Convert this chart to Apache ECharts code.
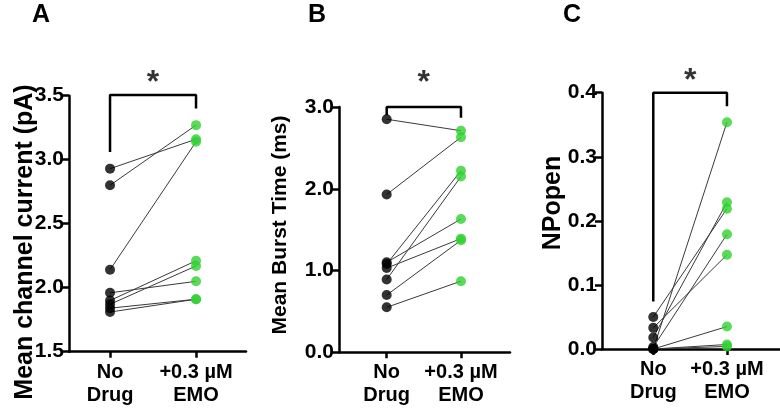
<!DOCTYPE html>
<html>
<head>
<meta charset="utf-8">
<script src="https://cdn.jsdelivr.net/npm/echarts@6/dist/echarts.min.js"></script>
<style>html,body{margin:0;padding:0;background:#fff;}#chart{width:780px;height:410px;}</style>
</head>
<body>
<div id="chart"></div>
<script>
// ---- data ----
const categories = ['No\nDrug', '+0.3 µM\nEMO'];
const panelLetters = ['A', 'B', 'C'];
const yTitles = ['Mean channel current (pA)', 'Mean Burst Time (ms)', 'NPopen'];

const currentNoDrug = [2.93, 2.80, 2.14, 1.96, 1.90, 1.87, 1.84, 1.81];
const currentEMO    = [3.16, 3.27, 3.14, 2.05, 2.21, 2.17, 1.91, 1.91];
const burstNoDrug   = [2.85, 1.93, 1.10, 1.08, 1.03, 0.89, 0.70, 0.55];
const burstEMO      = [2.71, 2.63, 1.63, 2.22, 1.39, 2.15, 1.37, 0.87];
const npNoDrug      = [0.050, 0.033, 0.018, 0.003, 0.000, 0.000, 0.000, 0.000];
const npEMO         = [0.219, 0.147, 0.229, 0.179, 0.354, 0.035, 0.007, 0.004];

const currentTicks = [1.5, 2.0, 2.5, 3.0, 3.5];
const burstTicks   = [0.0, 1.0, 2.0, 3.0];
const npTicks      = [0.0, 0.1, 0.2, 0.3, 0.4];

// significance brackets: [left leg end, top, right leg end], star level
const bracketCurrent = [3.06, 3.505, 3.40];
const bracketBurst   = [2.90, 3.0, 2.87];
const bracketNp      = [0.074, 0.4, 0.379];
const starLevels     = [3.60, 3.29, 0.418];
const sigText = '*';

// ---- layout / style ----
const FONT = "'Liberation Sans', Arial, sans-serif";
const BLACK = '#000000';
const GREEN = '#2fd12f';
const grids = [
  {left: 69, top: 95.7, width: 177, height: 256},
  {left: 339, top: 107, width: 171, height: 245.3},
  {left: 602, top: 92.7, width: 178, height: 256.3}
];
const xRanges = [[-0.477, 1.581], [-0.642, 1.66], [-0.696, 1.72]];

const panels = [
  {pre: currentNoDrug, post: currentEMO, ticks: currentTicks, br: bracketCurrent},
  {pre: burstNoDrug, post: burstEMO, ticks: burstTicks, br: bracketBurst},
  {pre: npNoDrug, post: npEMO, ticks: npTicks, br: bracketNp}
];

const xAxis = [], yAxis = [], series = [];
panels.forEach((p, i) => {
  xAxis.push({
    type: 'value', gridIndex: i, min: xRanges[i][0], max: xRanges[i][1],
    axisLine: {show: true, onZero: false, lineStyle: {color: BLACK, width: 2.5}},
    axisTick: {show: true, length: 6, lineStyle: {color: BLACK, width: 2.5}, customValues: [0, 1]},
    axisLabel: {show: true, customValues: [0, 1], formatter: v => categories[Math.round(v)],
      color: BLACK, fontFamily: FONT, fontWeight: 'bold', fontSize: 20, lineHeight: 23, margin: 9},
    splitLine: {show: false}
  });
  const t = p.ticks;
  yAxis.push({
    type: 'value', gridIndex: i, min: t[0], max: t[t.length - 1], interval: +(t[1] - t[0]).toFixed(3),
    axisLine: {show: true, onZero: false, lineStyle: {color: BLACK, width: 2.5}},
    axisTick: {show: true, length: 7, lineStyle: {color: BLACK, width: 2.5}},
    axisLabel: {color: BLACK, fontFamily: FONT, fontWeight: 'bold', fontSize: 21, margin: 5,
      formatter: v => v.toFixed(1)},
    splitLine: {show: false}
  });
  // connecting lines
  p.pre.forEach((v, k) => {
    series.push({
      type: 'line', xAxisIndex: i, yAxisIndex: i, data: [[0, v], [1, p.post[k]]],
      showSymbol: false, symbol: 'none', silent: true, animation: false, z: 2,
      lineStyle: {color: '#3a3a3a', width: 1}
    });
  });
  series.push({
    type: 'scatter', xAxisIndex: i, yAxisIndex: i, data: p.pre.map(v => [0, v]),
    symbolSize: 10, itemStyle: {color: BLACK}, z: 4, animation: false, clip: false
  });
  series.push({
    type: 'scatter', xAxisIndex: i, yAxisIndex: i, data: p.post.map(v => [1, v]),
    symbolSize: 10, itemStyle: {color: GREEN}, z: 4, animation: false, clip: false
  });
  // significance bracket
  series.push({
    type: 'line', xAxisIndex: i, yAxisIndex: i, clip: false, animation: false, z: 3,
    data: [[0, p.br[0]], [0, p.br[1]], [1, p.br[1]], [1, p.br[2]]],
    showSymbol: false, symbol: 'none', lineStyle: {color: BLACK, width: 2.5}
  });
  series.push({
    type: 'scatter', xAxisIndex: i, yAxisIndex: i, clip: false, animation: false,
    data: [[0.5, starLevels[i]]], symbolSize: 0,
    label: {show: true, position: 'inside', formatter: sigText, color: BLACK,
      fontFamily: FONT, fontWeight: 'bold', fontSize: 32}
  });
});

const titlePos = [[25, 242], [280, 225], [553, 203]];
const titleSize = [25, 21, 25];
const letterPos = [[32, 3], [308, 3], [563, 3]];

const graphic = yTitles.map((s, i) => ({
  type: 'text', x: titlePos[i][0], y: titlePos[i][1], rotation: Math.PI / 2,
  style: {text: s, fill: BLACK, font: `bold ${titleSize[i]}px ${FONT}`, align: 'center', verticalAlign: 'middle'}
}));
panelLetters.forEach((s, i) => graphic.push({
  type: 'text', x: letterPos[i][0], y: letterPos[i][1],
  style: {text: s, fill: BLACK, font: `bold 25px ${FONT}`, align: 'left', verticalAlign: 'top'}
}));

const chart = echarts.init(document.getElementById('chart'), null, {renderer: 'canvas'});
chart.setOption({
  animation: false,
  backgroundColor: '#ffffff',
  grid: grids.map(g => Object.assign({containLabel: false}, g)),
  xAxis, yAxis, series, graphic
});
</script>
</body>
</html>
